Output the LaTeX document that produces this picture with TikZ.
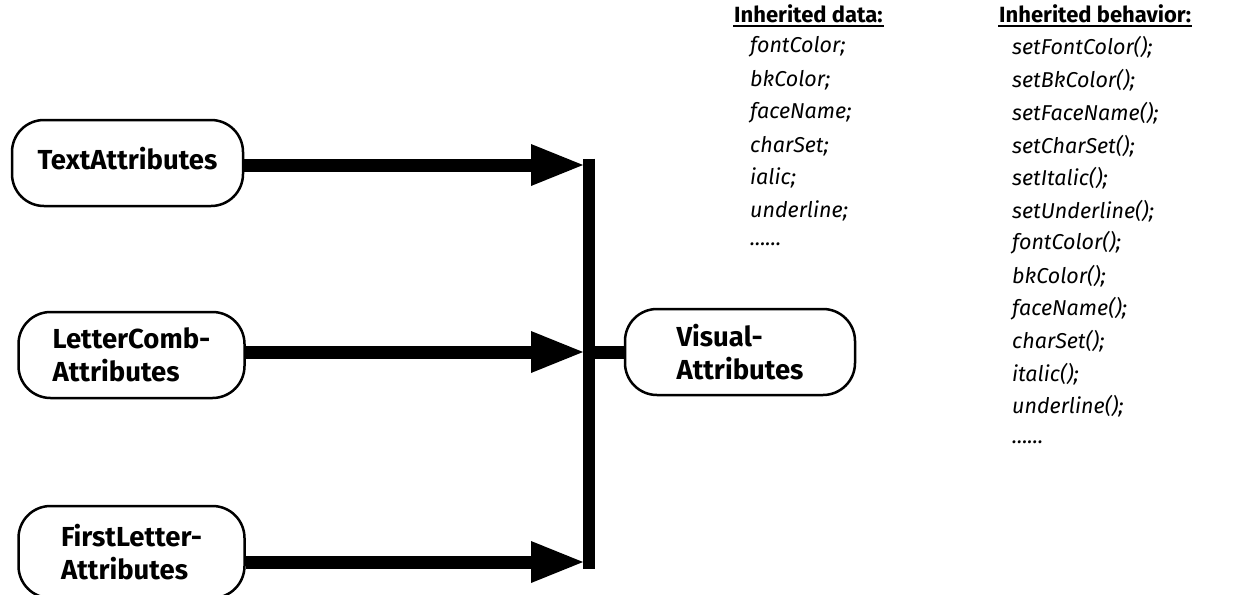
\documentclass[tikz,border=0pt]{standalone}
\usepackage{fontspec}
\setmainfont{Fira Sans}
\usetikzlibrary{arrows.meta}
\begin{document}
\begin{tikzpicture}[x=1pt,y=-1pt,
  box/.style={draw, line width=2.5pt, rounded corners=32pt,
    minimum width=226pt, minimum height=86pt, inner sep=0pt,
    font=\fontsize{27.5}{33}\selectfont\bfseries, align=left},
  shaft/.style={line width=13pt},
  head/.style={line width=13pt,
    -{Triangle[length=52pt,width=42pt,line width=0pt]}},
  bus/.style={line width=12pt},
  hdr/.style={font=\fontsize{22}{26}\selectfont\bfseries, anchor=west, inner sep=1pt},
  item/.style={font=\fontsize{21.5}{26}\selectfont\itshape, anchor=west, inner sep=0pt},
  uline/.style={line width=2.5pt}]
\useasboundingbox (0,0) rectangle (1249,594);

% class boxes
\node[box, minimum width=231pt, text depth=10pt] (ta) at (127.5,163) {TextAttributes};
\node[box] (lc) at (131.5,355) {LetterComb-\\Attributes};
\node[box, minimum height=92pt] (fl) at (131.5,552) {FirstLetter-\\Attributes};
\node[box, minimum width=230pt] (va) at (740,352) {Visual-\\Attributes};

% the bus that collects the three arrows
\coordinate (b1) at (589,165);
\coordinate (b2) at (589,352);
\coordinate (b3) at (589,562);
\coordinate (t1) at (583,165);
\coordinate (t2) at (583,352);
\coordinate (t3) at (583,562);
\coordinate (c1) at (595,165);
\coordinate (c3) at (595,562);

\draw[bus] ([yshift=6.5pt]b1) -- ([yshift=-6.5pt]b3);
\draw[shaft] (t1) -- (c1);
\draw[shaft] (t2) -- (va.west);
\draw[shaft] (t3) -- (c3);

\draw[head] (ta.east |- t1) -- (t1);
\draw[head] (lc.east |- t2) -- (t2);
\draw[head] (fl.east |- t3) -- (t3);

% inherited data
\node[hdr] (hd) at (733,14) {Inherited data:};
\draw[uline] ([yshift=-1.5pt]hd.south west) -- ([yshift=-1.5pt]hd.south east);
\node[item] (d1) at (750,47) {fontColor;};
\node[item] (d2) at (750,80) {bkColor;};
\node[item] (d3) at (750,113) {faceName;};
\node[item] (d4) at (750,146) {charSet;};
\node[item] (d5) at (750,178) {ialic;};
\node[item] (d6) at (750,211) {underline;};
\node[item] (d7) at (750,244) {......};

% inherited behavior
\node[hdr] (hb) at (998,14) {Inherited behavior:};
\draw[uline] ([yshift=-1.5pt]hb.south west) -- ([yshift=-1.5pt]hb.south east);
\node[item] (m1) at (1012,47) {setFontColor();};
\node[item] (m2) at (1012,80) {setBkColor();};
\node[item] (m3) at (1012,113) {setFaceName();};
\node[item] (m4) at (1012,146) {setCharSet();};
\node[item] (m5) at (1012,178) {setItalic();};
\node[item] (m6) at (1012,211) {setUnderline();};
\node[item] (m7) at (1012,243) {fontColor();};
\node[item] (m8) at (1012,276) {bkColor();};
\node[item] (m9) at (1012,309) {faceName();};
\node[item] (m10) at (1012,341) {charSet();};
\node[item] (m11) at (1012,374) {italic();};
\node[item] (m12) at (1012,406) {underline();};
\node[item] (m13) at (1012,442) {......};
\end{tikzpicture}
\end{document}
